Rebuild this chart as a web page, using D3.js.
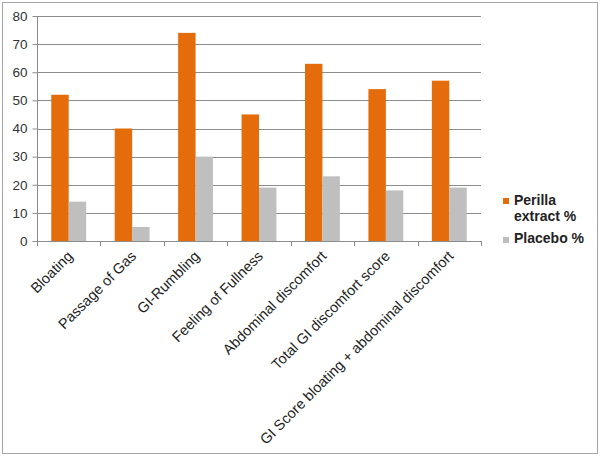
<!DOCTYPE html>
<html><head><meta charset="utf-8">
<script src="https://cdn.jsdelivr.net/npm/d3@7"></script>
<style>body{margin:0;background:#fff}svg{display:block}</style>
</head><body>
<script>
const categories = ["Bloating","Passage of Gas","GI-Rumbling","Feeling of Fullness","Abdominal discomfort","Total GI discomfort score","GI Score bloating + abdominal discomfort"];
const perilla = [52,40,74,45,63,54,57];
const placebo = [14,5,30,19,23,18,19];
const seriesNames = ["Perilla extract %","Placebo %"];
const yTicks = [0,10,20,30,40,50,60,70,80];
const colors = ["#E46C0A","#BFBFBF"];

(function(){
const W=600,H=456;
const FONT="'Liberation Sans', Arial, sans-serif";
const svg=d3.select("body").append("svg").attr("width",W).attr("height",H);
svg.append("rect").attr("x",2.5).attr("y",2.5).attr("width",595).attr("height",451)
  .attr("fill","#fff").attr("stroke","#a6a6a6").attr("stroke-width",1);

const mL=37,mR=481,mT=16,mB=241;
const x=d3.scaleBand().domain(categories).range([mL,mR]).paddingInner(0).paddingOuter(0);
const y=d3.scaleLinear().domain([0,80]).range([mB,mT]);

svg.append("g").selectAll("line").data(yTicks.filter(d=>d>0)).join("line")
  .attr("x1",mL).attr("x2",mR).attr("y1",d=>Math.round(y(d))+0.5).attr("y2",d=>Math.round(y(d))+0.5)
  .attr("stroke","#8c8c8c").attr("stroke-width",1);

const groupW = x.bandwidth()*0.55;
const xs=d3.scaleBand().domain([0,1]).range([0,groupW]);
const data=categories.map((c,i)=>({c,v:[perilla[i],placebo[i]]}));
const g=svg.append("g");
data.forEach(d=>{
  const x0=x(d.c)+(x.bandwidth()-groupW)/2;
  g.append("g").selectAll("rect").data(d.v).join("rect")
    .attr("x",(v,j)=>x0+xs(j)).attr("width",xs.bandwidth())
    .attr("y",v=>y(v)).attr("height",v=>mB-y(v))
    .attr("fill",(v,j)=>colors[j]);
});

const ya=svg.append("g").attr("transform",`translate(${mL+0.5},0)`)
  .call(d3.axisLeft(y).tickValues(yTicks).tickSize(5).tickPadding(5));
ya.select(".domain").attr("stroke","#8c8c8c").attr("d",`M0,${y(80)}V${mB}`);
ya.selectAll(".tick line").attr("stroke","#8c8c8c");
ya.selectAll(".tick text").attr("font-family",FONT).attr("font-size",13.5).attr("fill","#333");

const xa=svg.append("g");
xa.append("line").attr("x1",mL).attr("x2",mR).attr("y1",mB+0.5).attr("y2",mB+0.5).attr("stroke","#8c8c8c");
const bounds=categories.map(c=>x(c)).concat([mR]);
xa.selectAll("line.t").data(bounds).join("line").attr("class","t")
  .attr("x1",d=>Math.round(d)+0.5).attr("x2",d=>Math.round(d)+0.5).attr("y1",mB).attr("y2",mB+5).attr("stroke","#8c8c8c");
xa.selectAll("text").data(categories).join("text")
  .attr("transform",c=>`translate(${x(c)+x.bandwidth()/2+5},${mB+16}) rotate(-45)`)
  .attr("text-anchor","end").attr("font-family",FONT).attr("font-size",14.5).attr("fill","#222")
  .text(c=>c);

const lg=svg.append("g").attr("font-family",FONT).attr("font-weight","bold").attr("font-size",14).attr("fill","#222");
lg.append("rect").attr("x",503).attr("y",198).attr("width",6).attr("height",6).attr("fill",colors[0]);
lg.append("text").attr("x",514).attr("y",205).text("Perilla");
lg.append("text").attr("x",514).attr("y",221).text("extract %");
lg.append("rect").attr("x",503).attr("y",237).attr("width",6).attr("height",6).attr("fill",colors[1]);
lg.append("text").attr("x",514).attr("y",243).text("Placebo %");
})();
</script>
</body></html>
